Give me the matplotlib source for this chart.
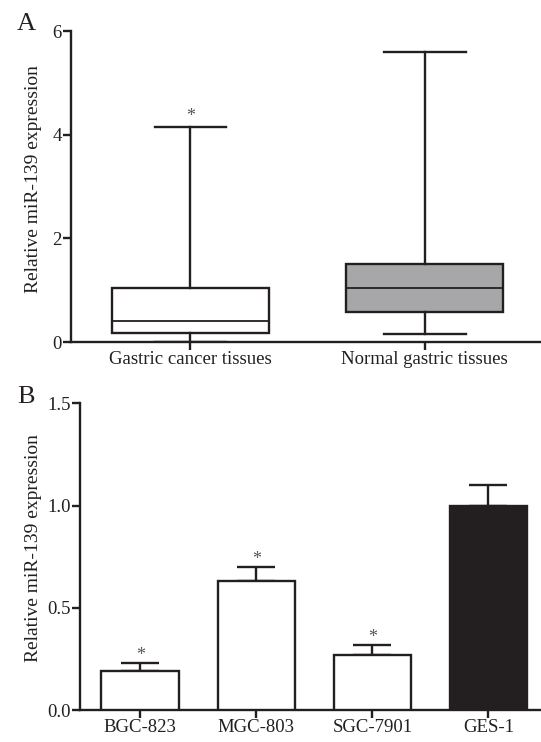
#!/usr/bin/env python3
"""miR-139 expression in gastric tissues and cell lines (two panels)."""

import matplotlib
matplotlib.use("Agg")
import matplotlib.pyplot as plt
import numpy as np

# Panel A: box plot summary (min / q1 / median / q3 / max)
tissue_labels = ["Gastric cancer tissues", "Normal gastric tissues"]
tissue_min = [0.01, 0.15]
tissue_q1 = [0.18, 0.58]
tissue_med = [0.41, 1.05]
tissue_q3 = [1.05, 1.50]
tissue_max = [4.15, 5.59]
tissue_star = [True, False]

# Panel B: cell lines, mean and SD
cell_labels = ["BGC-823", "MGC-803", "SGC-7901", "GES-1"]
cell_mean = [0.19, 0.63, 0.27, 1.00]
cell_err = [0.04, 0.07, 0.05, 0.10]
cell_star = [True, True, True, False]

INK = "#231f20"
GRAY_FILL = "#a7a7a9"
LW = 1.7

plt.rcParams["font.family"] = ["Liberation Serif", "DejaVu Serif"]
plt.rcParams["text.color"] = INK
plt.rcParams["axes.labelcolor"] = INK
plt.rcParams["xtick.color"] = INK
plt.rcParams["ytick.color"] = INK


def setup_axis(axis):
  axis.spines["top"].set_visible(False)
  axis.spines["right"].set_visible(False)
  axis.spines["left"].set_linewidth(LW)
  axis.spines["bottom"].set_linewidth(LW)
  axis.spines["left"].set_color(INK)
  axis.spines["bottom"].set_color(INK)
  axis.tick_params(direction="out", width=LW, length=5.5, labelsize=13.5, pad=1)


fig = plt.figure(figsize=(5.41, 7.42), dpi=100)
fig.patch.set_facecolor("white")

# Panel A
ax = fig.add_axes([0.1312, 0.539, 0.875, 0.419])
stats = []
for i in range(len(tissue_labels)):
  stats.append({
      "med": tissue_med[i], "q1": tissue_q1[i], "q3": tissue_q3[i],
      "whislo": tissue_min[i], "whishi": tissue_max[i], "fliers": [],
  })
boxes = ax.bxp(
    stats, positions=[0, 1], widths=0.67, patch_artist=True,
    showfliers=False, capwidths=[0.30, 0.35],
    boxprops=dict(linewidth=LW, edgecolor=INK),
    whiskerprops=dict(linewidth=LW, color=INK),
    capprops=dict(linewidth=LW, color=INK),
    medianprops=dict(linewidth=1.3, color=INK),
)
for patch, fc in zip(boxes["boxes"], ["white", GRAY_FILL]):
  patch.set_facecolor(fc)
for i, star in enumerate(tissue_star):
  if star:
    ax.text(i, tissue_max[i] + 0.03, "*", ha="center", va="bottom",
            fontsize=13, color="#555555")
ax.set_xlim(-0.51, 1.51)
ax.set_ylim(0, 6)
ax.set_yticks([0, 2, 4, 6])
ax.set_xticks([0, 1], tissue_labels)
ax.set_ylabel("Relative miR-139 expression", fontsize=14)
ax.yaxis.set_label_coords(-0.061, 0.523)
setup_axis(ax)
fig.text(0.031, 0.968, "A", fontsize=19, va="center", ha="left")

# Panel B
ax = fig.add_axes([0.1479, 0.0431, 0.86, 0.4134])
x = np.arange(len(cell_labels))
colors = ["white", "white", "white", INK]
ax.bar(x, cell_mean, width=0.67, color=colors, edgecolor=INK,
       linewidth=LW, zorder=3)
ax.errorbar(x, cell_mean, yerr=[np.zeros(len(x)), cell_err], fmt="none",
            ecolor=INK, elinewidth=LW, capsize=14, capthick=LW, zorder=2)
for i, star in enumerate(cell_star):
  if star:
    ax.text(i, cell_mean[i] + cell_err[i] - 0.005, "*", ha="center",
            va="bottom", fontsize=13, color="#555555")
ax.set_xlim(-0.52, 3.49)
ax.set_ylim(0, 1.5)
ax.set_yticks([0.0, 0.5, 1.0, 1.5])
ax.set_xticks(x, cell_labels)
ax.set_ylabel("Relative miR-139 expression", fontsize=14)
ax.yaxis.set_label_coords(-0.082, 0.528)
setup_axis(ax)
fig.text(0.031, 0.4656, "B", fontsize=19, va="center", ha="left")

fig.savefig("out.png", dpi=100)
